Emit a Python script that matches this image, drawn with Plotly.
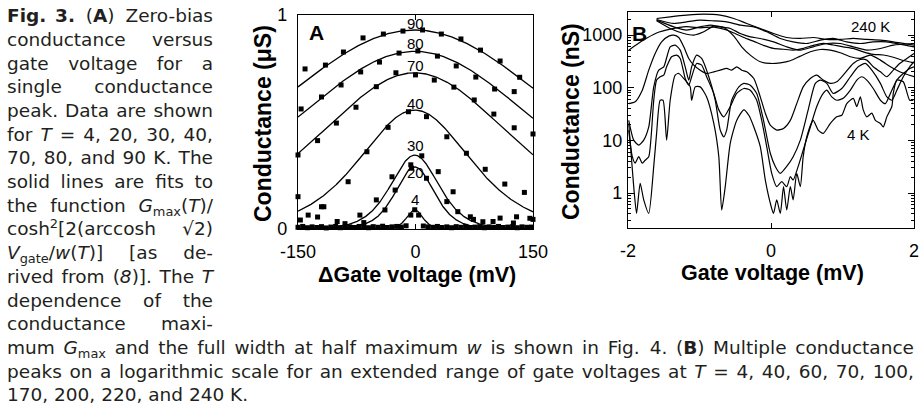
import re
import numpy as np
import plotly.graph_objects as go

W_PX, H_PX = 920, 414
def fx(x): return x / W_PX
def fy(y): return 1 - y / H_PX

# ---------------- Panel A data ----------------
a_temps = [90, 80, 70, 40, 30, 20, 4]
a_gmax = [0.93, 0.83, 0.73, 0.556, 0.345, 0.29, 0.09]
a_fwhm = [440, 372, 290, 164, 72, 58, 24]
a_center = -1.0

a_v90 = [-141, -115, -92, -67, -41, -16, 9, 33, 58, 83, 108, 133]
a_g90 = [0.748, 0.766, 0.827, 0.893, 0.911, 0.925, 0.930, 0.911, 0.888, 0.836, 0.785, 0.709]
a_v80 = [-146, -120, -95, -70, -46, -21, 3, 28, 52, 77, 101, 126]
a_g80 = [0.561, 0.617, 0.673, 0.734, 0.780, 0.822, 0.832, 0.808, 0.762, 0.710, 0.654, 0.642]
a_v70 = [-150, -125, -101, -76, -50, -25, 0, 24, 49, 75, 100, 126, 150]
a_g70 = [0.346, 0.413, 0.495, 0.569, 0.665, 0.730, 0.720, 0.696, 0.663, 0.603, 0.537, 0.473, 0.444]
a_v40 = [-150, -120, -86, -62, -35, -9, 14, 40, 65, 89, 114, 139]
a_g40 = [0.151, 0.104, 0.221, 0.361, 0.475, 0.548, 0.525, 0.431, 0.354, 0.279, 0.210, 0.171]
a_v30 = [-147, -125, -100, -71, -50, -30, -6, 8, 29, 48, 74, 99, 125, 150]
a_g30 = [0.042, 0.056, 0.035, 0.065, 0.136, 0.244, 0.300, 0.342, 0.268, 0.174, 0.045, 0.035, 0.028, 0.045]
a_v20 = [-137, -117, -90, -66, -39, -26, -5, 14, 40, 54, 70, 86, 108, 129, 146]
a_g20 = [0.065, 0.104, 0.025, 0.030, 0.089, 0.182, 0.284, 0.237, 0.128, 0.081, 0.057, 0.034, 0.051, 0.057, 0.050]
a_v4 = [-150, -144, -138, -132, -126, -120, -114, -108, -102, -96, -90, -84, -78, -72, -66,
        -60, -54, -48, -42, -36, -30, -24, -18, -12, -6, -1, 4, 10, 16, 22, 28, 34, 40,
        46, 52, 58, 64, 70, 76, 82, 88, 94, 100, 106, 112, 118, 124, 130, 136, 142, 148]
a_g4 = [0.008, 0.012, 0.006, 0.010, 0.007, 0.011, 0.005, 0.009, 0.012, 0.006, 0.008, 0.010, 0.007, 0.012, 0.009,
        0.006, 0.011, 0.008, 0.013, 0.007, 0.010, 0.012, 0.009, 0.015, 0.065, 0.090, 0.065, 0.014, 0.010, 0.008,
        0.012, 0.007, 0.010, 0.006, 0.011, 0.008, 0.012, 0.007, 0.009, 0.011, 0.006, 0.010, 0.008, 0.012,
        0.007, 0.009, 0.011, 0.006, 0.010, 0.008, 0.009]
a_points = {90: (a_v90, a_g90), 80: (a_v80, a_g80), 70: (a_v70, a_g70), 40: (a_v40, a_g40),
            30: (a_v30, a_g30), 20: (a_v20, a_g20), 4: (a_v4, a_g4)}
a_ticks = [-150, 0, 150]
a_ticktext = ["-150", "0", "150"]

# ---------------- Panel B data (gate voltage mV, conductance nS) ----------------
b_v4 = [-1.99, -1.96, -1.92, -1.88, -1.83, -1.78, -1.71, -1.64, -1.60, -1.55, -1.51, -1.46, -1.41, -1.34, -1.29,
        -1.20, -1.13, -1.11, -1.06, -0.99, -0.90, -0.80, -0.73, -0.69, -0.64, -0.57, -0.48, -0.38, -0.31, -0.24,
        -0.15, -0.08, -0.01, 0.035, 0.08, 0.13, 0.175, 0.22, 0.27, 0.31, 0.36, 0.41, 0.45, 0.50, 0.59, 0.66,
        0.73, 0.83, 0.92, 0.99, 1.06, 1.15, 1.20, 1.25, 1.29, 1.34, 1.41, 1.46, 1.53, 1.57, 1.62, 1.69, 1.71,
        1.76, 1.85, 1.94, 1.99]
b_g4 = [21, 6.5, 1.32, 0.41, 1.53, 0.74, 0.41, 3.2, 13.6, 58, 58, 10.1, 58, 174, 187,
        140, 104, 58, 104, 104, 67, 21, 4.9, 0.475, 1.32, 8.8, 24, 38, 30, 18,
        7.6, 1.77, 0.64, 0.41, 0.74, 0.41, 1.32, 0.475, 1.32, 0.74, 2.36, 1.32, 4.9, 11.7, 24, 15.7,
        13.6, 21, 28, 30, 50, 63, 44, 67, 38, 28, 33, 24, 21, 18, 28, 44, 78,
        140, 130, 58, 58]
b_v40 = [-1.99, -1.94, -1.90, -1.85, -1.80, -1.76, -1.71, -1.64, -1.60, -1.55, -1.50, -1.46, -1.39, -1.32, -1.27,
         -1.20, -1.15, -1.11, -1.04, -0.97, -0.90, -0.80, -0.73, -0.66, -0.57, -0.48, -0.38, -0.29, -0.20, -0.13,
         -0.06, 0.01, 0.08, 0.15, 0.22, 0.27, 0.31, 0.38, 0.45, 0.55, 0.64, 0.73, 0.78, 0.85, 0.92, 1.01,
         1.11, 1.20, 1.27, 1.34, 1.43, 1.53, 1.60, 1.67, 1.76, 1.85, 1.94, 2.0]
b_g40 = [15.7, 4.9, 3.7, 4.9, 3.7, 4.2, 4.9, 58, 140, 162, 174, 250, 388, 417, 361,
         150, 112, 162, 290, 269, 162, 78, 38, 28, 44, 78, 97, 90, 58, 24,
         7.6, 2.36, 1.32, 1.64, 1.32, 2.04, 1.77, 3.2, 6.5, 18, 44, 78, 90, 67, 58, 63,
         90, 140, 162, 140, 97, 58, 50, 78, 140, 187, 233, 250]
b_v60 = [-1.99, -1.92, -1.85, -1.78, -1.71, -1.64, -1.57, -1.50, -1.41, -1.34, -1.27, -1.20, -1.15, -1.11, -1.04,
         -0.97, -0.87, -0.78, -0.71, -0.66, -0.62, -0.55, -0.45, -0.38, -0.29, -0.20, -0.105, -0.01, 0.06, 0.13,
         0.22, 0.31, 0.41, 0.52, 0.62, 0.69, 0.78, 0.87, 0.99, 1.11, 1.22, 1.32, 1.41, 1.53, 1.62, 1.69,
         1.76, 1.85, 1.94, 2.0]
b_g60 = [24, 10.1, 8.1, 10.1, 18, 104, 216, 250, 600, 646, 519, 250, 140, 250, 417,
         361, 162, 58, 15.7, 11.7, 15.7, 58, 104, 121, 112, 78, 24, 5.7, 3.2, 2.36,
         3.2, 4.9, 10.1, 38, 121, 140, 121, 78, 97, 162, 250, 290, 216, 121, 67, 58,
         90, 162, 250, 312]
b_v70 = [-1.99, -1.90, -1.80, -1.71, -1.62, -1.53, -1.43, -1.36, -1.29, -1.22, -1.15, -1.08, -0.99, -0.90, -0.80,
         -0.71, -0.62, -0.55, -0.48, -0.41, -0.34, -0.24, -0.15, -0.08, -0.01, 0.08, 0.175, 0.27, 0.36, 0.45,
         0.55, 0.64, 0.73, 0.83, 0.92, 1.01, 1.15, 1.25, 1.34, 1.43, 1.53, 1.62, 1.71, 1.80, 1.90, 2.0]
b_g70 = [50, 54, 90, 216, 449, 747, 957, 1000, 903, 600, 361, 269, 216, 187, 201,
         216, 233, 216, 250, 216, 201, 150, 67, 33, 19.5, 15.7, 16.9, 24, 50, 104,
         150, 174, 140, 121, 130, 174, 290, 345, 335, 250, 201, 162, 216, 290, 361, 449]
b_v100 = [-1.99, -1.80, -1.60, -1.41, -1.18, -0.99, -0.80, -0.66, -0.52, -0.38, -0.24, -0.105, 0.035, 0.175,
          0.31, 0.45, 0.59, 0.73, 0.87, 1.01, 1.15, 1.29, 1.43, 1.57, 1.71, 1.85, 2.0]
b_g100 = [519, 780, 1100, 1300, 1450, 1380, 1420, 1300, 1100, 900, 760, 640, 560, 540,
          520, 560, 640, 700, 650, 600, 560, 480, 430, 420, 380, 330, 300]
b_v170 = [-1.60, -1.41, -1.22, -1.08, -0.94, -0.80, -0.66, -0.52, -0.41, -0.29, -0.15, -0.01, 0.13, 0.27,
          0.41, 0.55, 0.69, 0.83, 0.97, 1.11, 1.25, 1.39, 1.53, 1.67, 1.80, 2.0]
b_g170 = [1871, 1339, 1076, 1000, 1157, 1483, 1399, 957, 600, 417, 312, 290, 298, 326,
          399, 483, 534, 519, 462, 388, 361, 417, 335, 250, 201, 162]
b_v200 = [-1.60, -1.36, -1.18, -0.99, -0.85, -0.71, -0.57, -0.43, -0.29, -0.15, 0.035, 0.22, 0.41, 0.59,
          0.78, 0.97, 1.15, 1.34, 1.53, 1.71, 2.0]
b_g200 = [1927, 1439, 1245, 1439, 1549, 1439, 1339, 1076, 930, 865, 747, 600, 519, 600,
          694, 694, 600, 519, 558, 646, 694]
b_v220 = [-1.60, -1.36, -1.18, -0.99, -0.80, -0.62, -0.43, -0.24, -0.06, 0.13, 0.31, 0.50, 0.69, 0.87,
          1.06, 1.25, 1.43, 1.62, 2.0]
b_g220 = [1983, 1667, 1791, 1927, 1871, 1791, 1549, 1439, 1157, 865, 747, 694, 804, 865,
          747, 694, 747, 747, 600]
b_v240 = [-1.60, -1.41, -1.18, -0.94, -0.71, -0.52, -0.34, -0.15, 0.035, 0.22, 0.41, 0.59, 0.78, 0.97,
          1.15, 1.34, 1.53, 1.71, 2.0]
b_g240 = [2071, 2228, 2399, 2506, 2399, 2071, 1667, 1339, 1076, 903, 865, 903, 828, 828,
          865, 828, 804, 747, 646]
b_curves = [(b_v4, b_g4), (b_v40, b_g40), (b_v60, b_g60), (b_v70, b_g70), (b_v100, b_g100),
            (b_v170, b_g170), (b_v200, b_g200), (b_v220, b_g220), (b_v240, b_g240)]
b_xticks = [-2, 0, 2]
b_xticktext = ["-2", "0", "2"]
b_yticks = [1, 10, 100, 1000]
b_yticktext = ["1", "10", "100", "1000"]

# ---------------- Caption text ----------------
cap_left = [
    ["<b>Fig.</b>", "<b>3.</b>", "(<b>A</b>)", "Zero-bias"],
    ["conductance", "versus"],
    ["gate", "voltage", "for", "a"],
    ["single", "conductance"],
    ["peak.", "Data", "are", "shown"],
    ["for", "<i>T</i>", "=", "4,", "20,", "30,", "40,"],
    ["70,", "80,", "and", "90", "K.", "The"],
    ["solid", "lines", "are", "fits", "to"],
    ["the", "function", "<i>G</i><sub>max</sub>(<i>T</i>)/"],
    ["cosh<sup>2</sup>[2(arccosh", "√2)"],
    ["<i>V</i><sub>gate</sub>/<i>w</i>(<i>T</i>)]", "[as", "de-"],
    ["rived", "from", "(<i>8</i>)].", "The", "<i>T</i>"],
    ["dependence", "of", "the"],
    ["conductance", "maxi-"],
]
cap_bottom = [
    ["mum", "<i>G</i><sub>max</sub>", "and", "the", "full", "width", "at", "half", "maximum", "<i>w</i>",
     "is", "shown", "in", "Fig.", "4.", "(<b>B</b>)", "Multiple", "conductance"],
    ["peaks", "on", "a", "logarithmic", "scale", "for", "an", "extended", "range", "of", "gate",
     "voltages", "at", "<i>T</i>", "=", "4,", "40,", "60,", "70,", "100,"],
]
cap_last = ["170,", "200,", "220,", "and", "240", "K."]

CAP_FONT = "DejaVu Sans"
CAP_SIZE = 18.5
ADV = {' ': 651, '(': 799, ')': 799, ',': 651, '-': 739, '.': 651, '/': 690, '=': 1716, '[': 799, ']': 799,
       '√': 1303, 'A': 1401, 'B': 1405, 'D': 1577, 'F': 1178, 'G': 1587, 'K': 1343, 'M': 1767, 'T': 1251,
       'V': 1401, 'Z': 1403, 'a': 1255, 'b': 1300, 'c': 1126, 'd': 1300, 'e': 1260, 'f': 721, 'g': 1300,
       'h': 1298, 'i': 569, 'k': 1186, 'l': 569, 'm': 1995, 'n': 1298, 'o': 1253, 'p': 1300, 'r': 842,
       's': 1067, 't': 803, 'u': 1298, 'v': 1212, 'w': 1675, 'x': 1212, 'y': 1212, 'z': 1075}
for d in "0123456789":
    ADV[d] = 1303

def text_w(s, size=CAP_SIZE):
    w = 0.0
    scale = 1.0
    bold = False
    for tok in re.split(r'(<[^>]+>)', s):
        if tok.startswith('<'):
            t = tok.lower()
            if t in ('<sub>', '<sup>'):
                scale = 0.7
            elif t in ('</sub>', '</sup>'):
                scale = 1.0
            elif t == '<b>':
                bold = True
            elif t == '</b>':
                bold = False
            continue
        for ch in tok:
            cw = ADV.get(ch, 1250) / 2048.0
            if bold:
                cw *= 1.1
            w += cw * size * scale
    return w

LINE0 = 24.0
LSTEP = 23.7
left_x, left_y, left_t = [], [], []
right_x, right_y, right_t = [], [], []

def place(tokens, x0, x1, base, justify=True):
    ymid = base - 0.35 * CAP_SIZE
    widths = [text_w(t) for t in tokens]
    if justify and len(tokens) > 1:
        gap = (x1 - x0 - sum(widths)) / (len(tokens) - 1)
    else:
        gap = ADV[' '] / 2048.0 * CAP_SIZE
    x = x0
    for i, (t, w) in enumerate(zip(tokens, widths)):
        if justify and len(tokens) > 1 and i == len(tokens) - 1:
            right_x.append(x1); right_y.append(ymid); right_t.append(t)
        else:
            left_x.append(x); left_y.append(ymid); left_t.append(t)
        x += w + gap

for k, toks in enumerate(cap_left):
    place(toks, 7, 213, LINE0 + k * LSTEP)
for k, toks in enumerate(cap_bottom):
    place(toks, 7, 914, LINE0 + (len(cap_left) + k) * LSTEP)
place(cap_last, 7, 914, LINE0 + (len(cap_left) + len(cap_bottom)) * LSTEP, justify=False)

# ---------------- Figure ----------------
fig = go.Figure()

vgrid = np.linspace(-150, 150, 601)
k = 2 * np.arccosh(np.sqrt(2))
for T, gm, w in zip(a_temps, a_gmax, a_fwhm):
    fitg = gm / np.cosh(k * (vgrid - a_center) / w) ** 2
    fig.add_trace(go.Scatter(x=vgrid, y=fitg, mode="lines", line=dict(color="black", width=1.3),
                             xaxis="x", yaxis="y", showlegend=False, hoverinfo="skip"))
for T in a_temps:
    vv, gg = a_points[T]
    fig.add_trace(go.Scatter(x=vv, y=gg, mode="markers",
                             marker=dict(symbol="square", size=5, color="black", line=dict(width=0)),
                             xaxis="x", yaxis="y", showlegend=False, hoverinfo="skip", cliponaxis=False))

for vv, gg in b_curves:
    fig.add_trace(go.Scatter(x=vv, y=gg, mode="lines", line=dict(color="black", width=1.2, shape="spline", smoothing=0.6),
                             xaxis="x2", yaxis="y2", showlegend=False, hoverinfo="skip"))

fig.add_trace(go.Scatter(x=left_x, y=left_y, text=left_t, mode="text", textposition="middle right",
                         textfont=dict(family=CAP_FONT, size=CAP_SIZE, color="#231f20"),
                         xaxis="x3", yaxis="y3", showlegend=False, hoverinfo="skip", cliponaxis=False))
fig.add_trace(go.Scatter(x=right_x, y=right_y, text=right_t, mode="text", textposition="middle left",
                         textfont=dict(family=CAP_FONT, size=CAP_SIZE, color="#231f20"),
                         xaxis="x3", yaxis="y3", showlegend=False, hoverinfo="skip", cliponaxis=False))

TICKF = dict(family="Liberation Sans, Arial, sans-serif", size=18, color="black")
ax_common = dict(showgrid=False, zeroline=False, showline=True, linecolor="black", linewidth=1.3,
                 mirror="allticks", ticks="inside", tickcolor="black", tickwidth=1.2, tickfont=TICKF)

fig.update_layout(
    width=W_PX, height=H_PX, margin=dict(l=0, r=0, t=0, b=0, autoexpand=False),
    paper_bgcolor="white", plot_bgcolor="rgba(0,0,0,0)",
    xaxis=dict(domain=[fx(298), fx(533)], range=[-150, 150], tickvals=a_ticks,
               ticktext=a_ticktext, ticklen=5, anchor="y", ticklabelstandoff=6, **ax_common),
    yaxis=dict(domain=[fy(229), fy(15)], range=[0, 1], tickvals=[0, 1], ticktext=["0", "1"], ticklen=5,
               anchor="x", ticklabelstandoff=6, **ax_common),
    xaxis2=dict(domain=[fx(628), fx(914)], range=[-2, 2], tickvals=b_xticks, ticktext=b_xticktext,
                ticklen=5, anchor="y2", ticklabelstandoff=6, **ax_common),
    yaxis2=dict(domain=[fy(228), fy(12)], type="log", range=[-0.665, 3.44], tickvals=b_yticks,
                ticktext=b_yticktext, ticklen=6, anchor="x2", ticklabelstandoff=1,
                minor=dict(ticks="inside", ticklen=3, dtick="D1", tickcolor="black", showgrid=False),
                **ax_common),
    xaxis3=dict(domain=[0, 1], range=[0, W_PX], visible=False, anchor="y3", fixedrange=True),
    yaxis3=dict(domain=[0, 1], range=[H_PX, 0], visible=False, anchor="x3", fixedrange=True),
)

LBL = dict(family="Liberation Sans, Arial, sans-serif", color="black")
ann = []
def add_ann(text, x, y, size, bold=False, angle=0, xanchor="center"):
    ann.append(dict(text=("<b>%s</b>" % text) if bold else text, x=fx(x), y=fy(y), xref="paper", yref="paper",
                    showarrow=False, xanchor=xanchor, yanchor="middle", textangle=angle,
                    font=dict(size=size, **LBL), borderpad=0, borderwidth=0))

add_ann("Conductance (μS)", 263, 124, 23, bold=True, angle=-90)
add_ann("ΔGate voltage (mV)", 417, 275, 21.5, bold=True)
add_ann("Conductance (nS)", 571, 122, 23, bold=True, angle=-90)
add_ann("Gate voltage (mV)", 772, 273, 21.5, bold=True)
add_ann("A", 316, 32, 21, bold=True)
add_ann("B", 639, 33, 21, bold=True)
a_label_y = {90: 23, 80: 43, 70: 65, 40: 103, 30: 145, 20: 172, 4: 200}
for T in a_temps:
    add_ann(str(T), 415, a_label_y[T], 15)
add_ann("240 K", 870, 26, 15)
add_ann("4 K", 858, 134, 15)
fig.update_layout(annotations=ann)

fig.write_html("out.html")
